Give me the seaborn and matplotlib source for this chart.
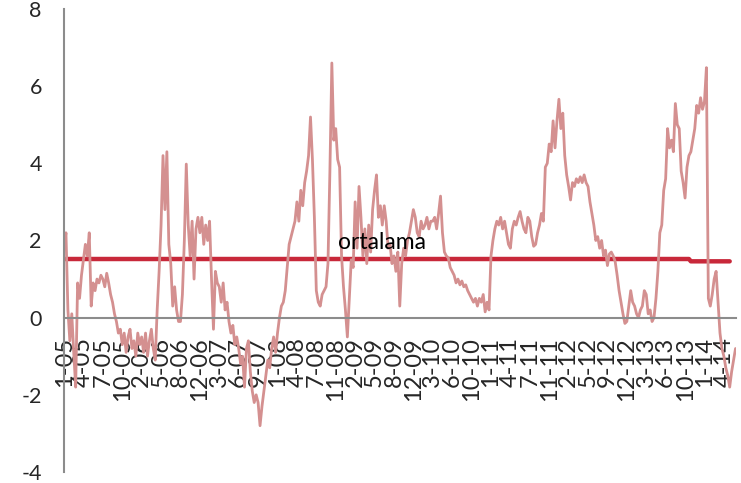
import matplotlib
matplotlib.use("Agg")
import matplotlib.pyplot as plt
import pandas as pd
import seaborn as sns

# Daily spread series, sampled ten points per labelled tick interval
values = [
    # 1-05
    1.8, 2.2, 0.2, -0.6, 0.1, -0.9, -1.8, 0.9, 0.5, 1.1,
    # 4-05
    1.5, 1.9, 1.6, 2.2, 0.3, 0.9, 0.7, 1.0, 0.9, 1.1,
    # 7-05
    1.0, 0.8, 1.15, 0.9, 0.6, 0.4, 0.1, -0.1, -0.4, -0.3,
    # 10-05
    -0.7, -0.4, -0.9, -0.5, -0.3, -0.8, -0.6, -1.0, -0.4, -0.7,
    # 2-06
    -0.5, -0.9, -0.4, -1.0, -0.6, -0.3, -0.8, -1.1, 0.2, 1.2,
    # 5-06
    2.4, 4.2, 2.8, 4.3, 1.9, 1.4, 0.3, 0.8, 0.2, -0.1,
    # 8-06
    -0.1, 0.6, 2.0, 3.98, 2.4, 1.6, 2.5, 1.0, 2.3, 2.6,
    # 12-06
    2.2, 2.6, 1.9, 2.4, 2.0, 2.5, 1.0, -0.3, 1.2, 0.9,
    # 3-07
    0.8, 0.4, 0.9, 0.2, 0.4, -0.1, -0.4, -0.2, -0.7, -0.5,
    # 6-07
    -0.8, -1.2, -1.0, -1.8, -0.8, -0.6, -1.4, -1.9, -2.2, -2.0,
    # 9-07
    -2.2, -2.8, -2.3, -1.9, -1.5, -1.1, -1.3, -0.8, -0.5, -0.9,
    # 1-08
    -0.4, 0.0, 0.3, 0.4, 0.7, 1.3, 1.9, 2.1, 2.3, 2.5,
    # 4-08
    3.0, 2.5, 3.3, 2.9, 3.5, 3.8, 4.2, 5.2, 4.1, 2.6,
    # 7-08
    0.7, 0.4, 0.3, 0.6, 0.7, 0.8, 1.4, 3.8, 6.6, 4.6,
    # 11-08
    4.9, 4.1, 3.9, 1.6, 0.8, 0.2, -0.5, 0.5, 1.5, 1.3,
    # 2-09
    3.0, 1.8, 3.4, 2.6, 1.6, 2.3, 1.4, 2.4, 1.7, 2.8,
    # 5-09
    3.3, 3.7, 2.6, 2.9, 2.4, 2.9, 2.5, 1.8, 1.9, 1.4,
    # 8-09
    1.6, 1.2, 1.7, 0.3, 1.4, 1.8, 1.6, 2.0, 2.2, 2.5,
    # 12-09
    2.8, 2.6, 2.2, 2.1, 2.5, 2.3, 2.4, 2.6, 2.3, 2.5,
    # 3-10
    2.5, 2.6, 2.3, 2.7, 3.15, 2.2, 1.7, 1.6, 1.55, 1.3,
    # 6-10
    1.2, 1.1, 0.9, 1.0, 0.85, 0.95, 0.8, 0.85, 0.7, 0.6,
    # 10-10
    0.5, 0.4, 0.5, 0.3, 0.5, 0.4, 0.6, 0.15, 0.4, 0.2,
    # 1-11
    1.6, 2.0, 2.3, 2.5, 2.4, 2.6, 2.3, 2.5, 2.2, 1.9,
    # 4-11
    1.8, 2.3, 2.5, 2.4, 2.6, 2.75, 2.5, 2.3, 2.2, 2.6,
    # 7-11
    2.5, 2.1, 1.85, 1.9, 2.2, 2.4, 2.7, 2.5, 3.9, 4.0,
    # 11-11
    4.5, 4.3, 5.1, 4.4, 5.1, 5.66, 4.9, 5.3, 4.2, 3.7,
    # 2-12
    3.4, 3.05, 3.5, 3.4, 3.6, 3.5, 3.65, 3.5, 3.7, 3.5,
    # 5-12
    3.4, 3.0, 2.7, 2.4, 2.0, 2.1, 1.8, 2.0, 1.6, 1.75,
    # 9-12
    1.35, 1.65, 1.7, 1.6, 1.45, 1.1, 0.7, 0.4, 0.1, -0.15,
    # 12-12
    -0.1, 0.3, 0.7, 0.4, 0.3, 0.1, 0.0, 0.2, 0.3, 0.7,
    # 3-13
    0.6, 0.1, 0.2, -0.1, 0.0, 0.5, 1.2, 2.2, 2.4, 3.3,
    # 6-13
    3.6, 4.9, 4.4, 4.6, 4.3, 5.55, 5.0, 4.9, 3.8, 3.5,
    # 10-13
    3.1, 3.9, 4.2, 4.3, 4.6, 4.9, 5.5, 5.3, 5.7, 5.4,
    # 1-14
    5.6, 6.48, 0.5, 0.3, 0.6, 1.0, 1.2, 0.4, -0.4, -0.8,
    # 4-14
    -1.0, -1.3, -1.5, -1.8, -1.4, -1.1, -0.8,
]

# Long-run average: two levels, with the break and end points (sample index)
mean_levels = [1.52, 1.46]
mean_breaks = [0, 323, 344]

tick_labels = [
    "1-05", "4-05", "7-05", "10-05", "2-06", "5-06", "8-06", "12-06",
    "3-07", "6-07", "9-07", "1-08", "4-08", "7-08", "11-08", "2-09",
    "5-09", "8-09", "12-09", "3-10", "6-10", "10-10", "1-11", "4-11",
    "7-11", "11-11", "2-12", "5-12", "9-12", "12-12", "3-13", "6-13",
    "10-13", "1-14", "4-14",
]
tick_step = 10

series = pd.DataFrame({"gun": range(len(values)), "deger": values})
mean_vals = []
for lvl, a, b in zip(mean_levels, mean_breaks[:-1], mean_breaks[1:]):
    mean_vals += [lvl] * (b - a)
mean_df = pd.DataFrame({"gun": range(len(mean_vals)), "ortalama": mean_vals})

sns.set_style("white")
plt.rcParams["font.family"] = ["Lato", "DejaVu Sans"]
plt.rcParams["axes.unicode_minus"] = False

fig = plt.figure(figsize=(7.41, 4.83), dpi=100)
ax = fig.add_axes([0.0864, 0.0228, 0.9062, 0.9586])

sns.lineplot(data=mean_df, x="gun", y="ortalama", color="#C8283A",
             linewidth=3.2, ax=ax)
sns.lineplot(data=series, x="gun", y="deger", color="#D49090",
             linewidth=2.0, ax=ax, solid_joinstyle="round")

ax.text(164, 1.95, "ortalama", ha="center", va="center", fontsize=16.5,
        color="black")

# Axis frame: the category axis sits on the zero line
axis_grey = "#8C8C8C"
for side in ("top", "right"):
    ax.spines[side].set_visible(False)
ax.spines["bottom"].set_position(("data", 0))
for side in ("left", "bottom"):
    ax.spines[side].set_color(axis_grey)
    ax.spines[side].set_linewidth(1.5)

ax.set_xlim(0, len(values) - 1)
ax.set_ylim(-4, 8)
ax.set_yticks(range(-4, 9, 2))
ax.set_xticks(range(0, tick_step * len(tick_labels), tick_step))
ax.set_xticklabels(tick_labels, rotation=90, ha="center", va="top")
ax.set_xlabel("")
ax.set_ylabel("")

ax.tick_params(axis="x", direction="out", length=5, width=1.3,
               color=axis_grey, pad=9, labelsize=17)
ax.tick_params(axis="y", direction="out", length=6, width=1.3,
               color=axis_grey, pad=10, labelsize=15.5)
ax.grid(False)

fig.savefig("out.png", dpi=100)
